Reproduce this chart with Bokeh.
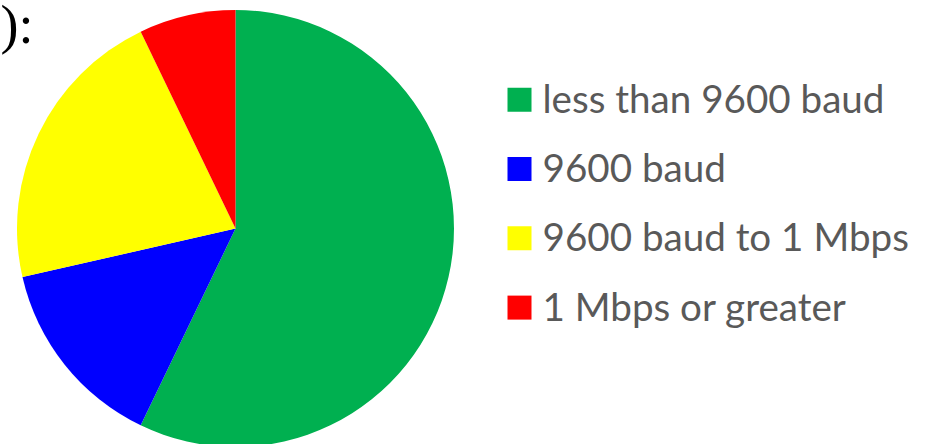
import math
from bokeh.plotting import figure
from bokeh.models import Range1d, ColumnDataSource
from bokeh.core.properties import value
from bokeh.embed import file_html
from bokeh.resources import INLINE

categories = ["less than 9600 baud", "9600 baud", "9600 baud to 1 Mbps", "1 Mbps or greater"]
counts = [8, 2, 3, 1]
colors = ["#00B050", "#0000FF", "#FFFF00", "#FF0000"]
heading = "):"

W, H = 926, 444

def fy(Y):
    return H - Y

def fx(X):
    return X

total = sum(counts)
starts, ends = [], []
cum = 0.0
for c in counts:
    starts.append(math.pi / 2 - 2 * math.pi * cum / total)
    cum += c
    ends.append(math.pi / 2 - 2 * math.pi * cum / total)

p = figure(width=W, height=H, output_backend="svg", toolbar_location=None,
           x_range=Range1d(0, W), y_range=Range1d(0, H), min_border=0)
p.axis.visible = False
p.grid.visible = False
p.outline_line_color = None
p.background_fill_color = "white"
p.border_fill_color = "white"

pie = ColumnDataSource(dict(start=starts, end=ends, color=colors, cat=categories))
p.wedge(x=fx(235), y=fy(228), radius=218.5, start_angle="start", end_angle="end",
        direction="clock", fill_color="color", line_color=None, source=pie)

rows = list(range(len(categories)))
sq_y = [fy(99.2 + 69.3 * i) for i in rows]
mid_y = [fy(97.5 + 69.2 * i) for i in rows]
leg = ColumnDataSource(dict(sy=sq_y, ty=mid_y, color=colors, cat=categories,
                            sx=[fx(519)] * len(rows), tx=[fx(542)] * len(rows)))
p.rect(x="sx", y="sy", width=24, height=24, fill_color="color", line_color=None, source=leg)
p.text(x="tx", y="ty", text="cat", source=leg, text_font=value("Lato"),
       text_font_size="38.6px", text_color="#595959", text_baseline="middle",
       text_align="left")

p.text(x=[fx(0)], y=[fy(24)], text=[heading], text_font=value("Liberation Serif"),
       text_font_size="54px", text_color="black", text_baseline="middle",
       text_align="left")

open("out.html", "w").write(file_html(p, INLINE))
